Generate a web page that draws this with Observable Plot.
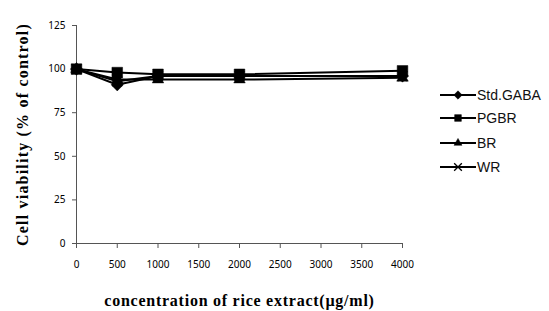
<!DOCTYPE html>
<html><head><meta charset="utf-8">
<script src="https://cdn.jsdelivr.net/npm/d3@7"></script>
<script src="https://cdn.jsdelivr.net/npm/@observablehq/plot@0.6"></script>
<style>
body{margin:0;background:#fff}
#wrap{position:relative;width:549px;height:311px;overflow:hidden}
#wrap svg.plot{font-family:"Liberation Sans",Arial,sans-serif;font-size:14px;letter-spacing:-1px;color:#000}
g[aria-label="y-axis label"] text, g[aria-label="x-axis label"] text{font-family:"Liberation Serif","Times New Roman",serif;font-weight:bold;font-size:16px;fill:#000}
g[aria-label="x-axis label"] text{letter-spacing:0.75px}
g[aria-label="y-axis label"] text{letter-spacing:1.2px}
.legend{position:absolute;left:440px;top:0;font-family:"Liberation Sans",Arial,sans-serif;font-size:14px;color:#111}
.legend .row{position:absolute;left:0;display:flex;align-items:center;white-space:nowrap;height:16px}
.legend svg{display:block;margin-right:1px}
</style></head><body><div id="wrap"></div>
<script>
const concentrations = [0, 500, 1000, 2000, 4000];
const seriesNames = ["Std.GABA", "PGBR", "BR", "WR"];
const stdGABA = [100, 91, 96, 96, 96];
const pgbr = [100, 98, 97, 97, 99];
const br = [100, 94, 94, 94, 95];
const wr = [100, 93, 96, 96, 96];
const xTicks = [0, 500, 1000, 1500, 2000, 2500, 3000, 3500, 4000];
const yTicks = [0, 25, 50, 75, 100, 125];
const symbols = ["diamond2", "square", "triangle2", "times"];

const valuesBySeries = [stdGABA, pgbr, br, wr];
const data = [];
seriesNames.forEach((s, i) => concentrations.forEach((c, j) => data.push({series: s, conc: c, value: valuesBySeries[i][j]})));

const marks = [
  Plot.ruleX([0], {stroke: "#555"}),
  Plot.ruleY([0], {stroke: "#555"}),
  Plot.axisX({ticks: xTicks, tickFormat: d => String(d), tickSize: 5, tickPadding: 12, label: "concentration of rice extract(µg/ml)", labelAnchor: "center", labelArrow: "none", labelOffset: 62, stroke: "#555"}),
  Plot.axisY({ticks: yTicks, tickSize: 4, tickPadding: 7, label: "Cell viability (% of control)", labelAnchor: "center", labelArrow: "none", labelOffset: 60, stroke: "#555"}),
  Plot.line(data, {x: "conc", y: "value", z: "series", stroke: "#000", strokeWidth: 2})
];
seriesNames.forEach((s, i) => {
  const sub = data.filter(d => d.series === s);
  if (symbols[i] === "times") {
    marks.push(Plot.dot(sub, {x: "conc", y: "value", symbol: symbols[i], r: 4.5, stroke: "#000", strokeWidth: 1.5}));
  } else {
    marks.push(Plot.dot(sub, {x: "conc", y: "value", symbol: symbols[i], r: symbols[i] === "square" ? 6 : 5.5, fill: "#000", stroke: "#000", strokeWidth: 0.5}));
  }
});

const chart = Plot.plot({
  width: 549, height: 311,
  marginLeft: 76, marginRight: 147, marginTop: 25, marginBottom: 68,
  x: {domain: [0, 4000]},
  y: {domain: [0, 125]},
  marks
});
document.getElementById("wrap").appendChild(chart);

// legend
const legend = document.createElement("div");
legend.className = "legend";
const legendTops = [87, 110, 135, 159];
const symbolMap = {diamond2: d3.symbolDiamond2, square: d3.symbolSquare, triangle2: d3.symbolTriangle2, times: d3.symbolTimes};
seriesNames.forEach((s, i) => {
  const row = document.createElement("div");
  row.className = "row";
  row.style.top = legendTops[i] + "px";
  const path = d3.symbol(symbolMap[symbols[i]], symbols[i] === "times" ? 40 : 45)();
  const filled = symbols[i] !== "times";
  row.innerHTML = `<svg width="36" height="16"><line x1="0" x2="36" y1="8" y2="8" stroke="#000" stroke-width="2"/><path transform="translate(18,8)" d="${path}" fill="${filled ? "#000" : "none"}" stroke="#000" stroke-width="${filled ? 0.5 : 1.3}"/></svg><span>${s}</span>`;
  legend.appendChild(row);
});
document.getElementById("wrap").appendChild(legend);
</script>
</body></html>
